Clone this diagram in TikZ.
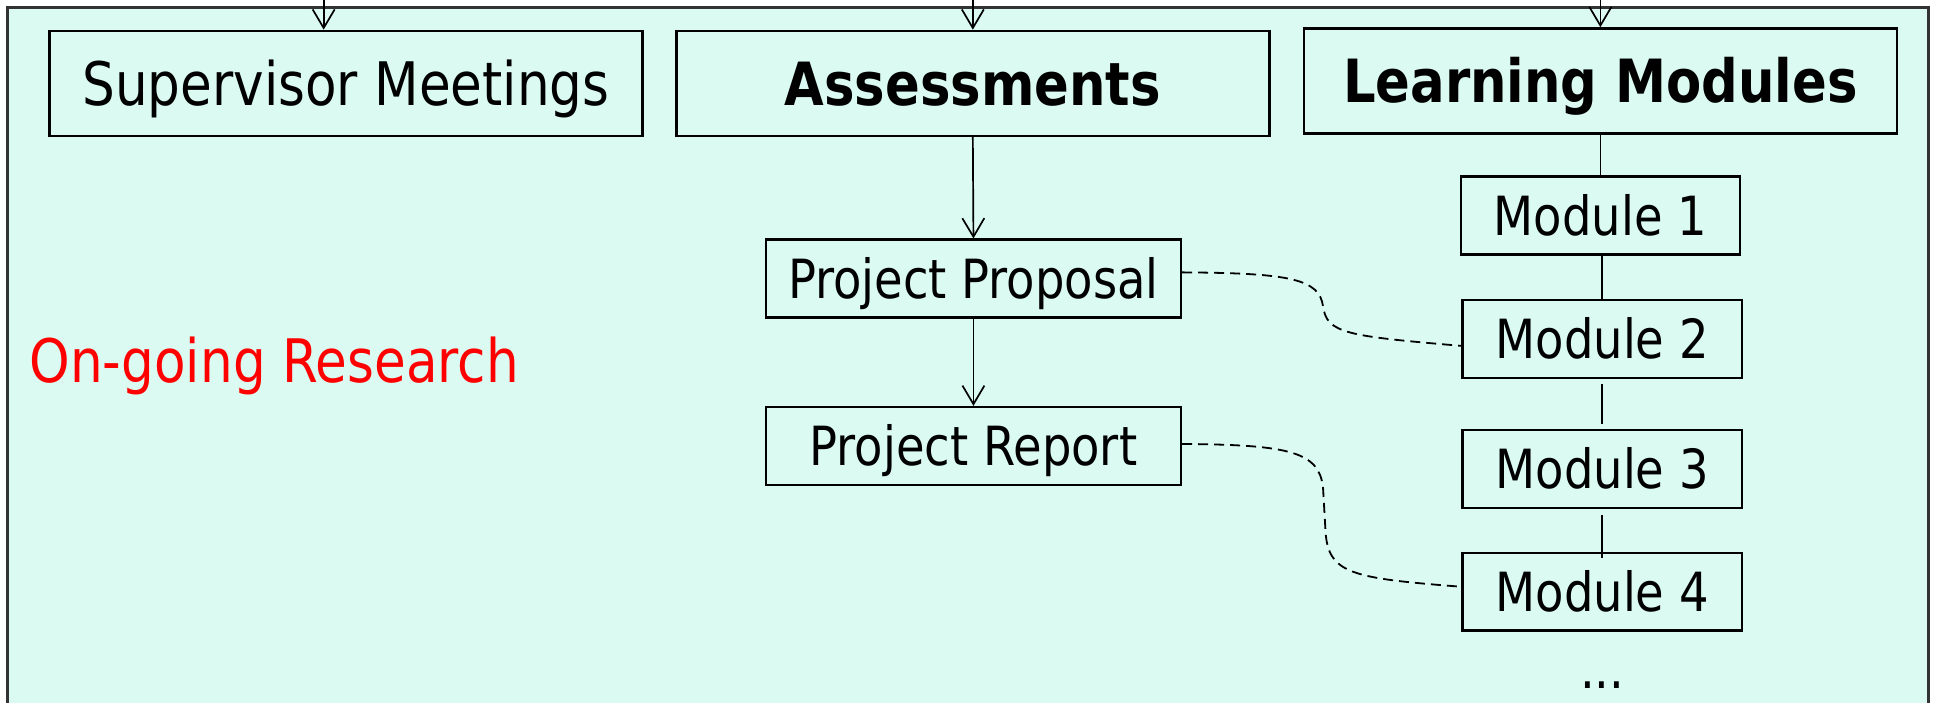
\documentclass[tikz,border=0pt]{standalone}
\usepackage{fontspec}
\setmainfont{DejaVu Sans}[FakeStretch=0.86]
\usetikzlibrary{arrows.meta,calc}
\definecolor{mint}{RGB}{219,250,241}
\begin{document}
\begin{tikzpicture}[x=0.61767pt,y=-0.61767pt,
  box/.style={draw=black, line width=1.2pt, fill=mint, inner sep=0pt, align=center},
  topbox/.style={box, minimum width=296.5pt, minimum height=52.5pt, font=\fontsize{30}{34}\selectfont, text height=21.9pt, text depth=0pt},
  boldbox/.style={topbox, font=\fontsize{29.8}{34}\selectfont\bfseries, text height=21.7pt},
  modbox/.style={box, minimum width=139.6pt, minimum height=38.9pt, font=\fontsize{27}{32}\selectfont, text height=19.7pt, text depth=0pt},
  projbox/.style={modbox, minimum width=207.5pt},
  arr/.style={line width=0.85pt, -{Straight Barb[length=9.3pt,width=11pt]}},
  link/.style={line width=0.85pt},
  dlink/.style={line width=0.9pt, dash pattern=on 5pt off 3pt}]
\useasboundingbox (0,0) rectangle (1568,568.3);
\draw[draw=black!80, line width=1.2pt, fill=mint] (6,6) rectangle (1561,590);
\node[topbox] (sup) at (280,67.5) {Supervisor Meetings};
\node[boldbox] (ass) at (787.5,67.5) {Assessments};
\node[boldbox] (lm) at (1295.5,65.5) {Learning Modules};
\node[modbox] (m1) at (1295.5,174.5) {Module 1};
\node[modbox] (m2) at (1297,274.5) {Module 2};
\node[modbox] (m3) at (1297,379.5) {Module 3};
\node[modbox] (m4) at (1297,479) {Module 4};
\node[font=\fontsize{27}{32}\selectfont, inner sep=0pt, anchor=base] (dots) at (1297,557) {...};
\node[projbox] (prop) at (788,225.5) {Project Proposal};
\node[projbox] (rep) at (788,361) {Project Report};
\node[text=red, font=\fontsize{30}{34}\selectfont, inner sep=0pt, text height=21.9pt, text depth=0pt] (res) at (222,292) {On-going Research};
\coordinate (t1) at (262,-4);
\coordinate (t2) at (787.5,-4);
\coordinate (t3) at (1295.5,-4);
\draw[arr] (t1) -- (t1 |- sup.north);
\draw[arr] (t2) -- (t2 |- ass.north);
\draw[arr] (t3) -- (t3 |- lm.north);
\draw[arr] (ass.south) -- (prop.north);
\draw[arr] (prop.south) -- (rep.north);
\draw[link] (lm.south) -- (lm.south |- m1.north);
\draw[link] (m1.south -| m2.north) -- (m2.north);
\draw[link] ($(m2.south)+(0,4)$) -- ($(m3.north)+(0,-4)$);
\draw[link] ($(m3.south)+(0,5)$) -- ($(m4.north)+(0,5)$);
\draw[dlink] ($(prop.east)+(0,-5)$) .. controls (1045,221) and (1068,226) .. (1071,248)
  .. controls (1074,270) and (1090,272) .. ($(m2.west)+(0,5.5)$);
\draw[dlink] ($(rep.east)+(0,-1.6)$) .. controls (1045,360) and (1068,366) .. (1071,395)
  -- (1073,430) .. controls (1075,465) and (1095,468) .. ($(m4.west)+(0,-4)$);
\end{tikzpicture}
\end{document}
